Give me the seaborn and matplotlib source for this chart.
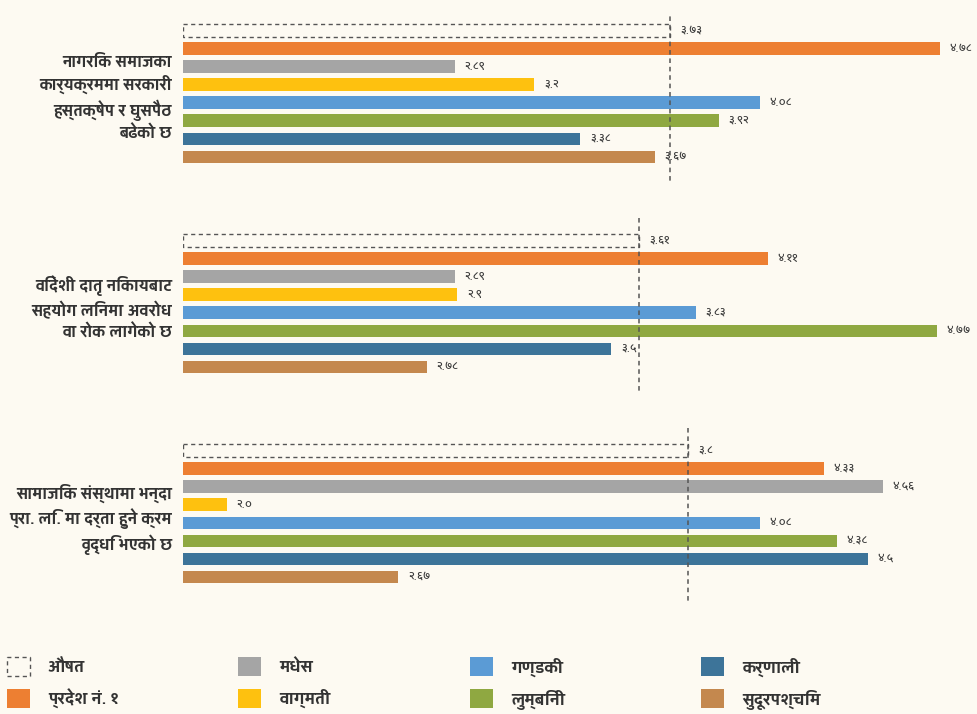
"""
Province-wise average score on three civic-space statements (horizontal bars).
"""
import matplotlib
matplotlib.use('Agg')
import matplotlib.pyplot as plt
import seaborn as sns
import pandas as pd
from matplotlib import font_manager
from matplotlib.ft2font import FT2Font
from matplotlib.patches import Patch

statements = [
    'नागरिक समाजका\nकार्यक्रममा सरकारी\nहस्तक्षेप र घुसपैठ\nबढेको छ',
    'विदेशी दातृ निकायबाट\nसहयोग लिनमा अवरोध\nवा रोक लागेको छ',
    'सामाजिक संस्थामा भन्दा\nप्रा. लि. मा दर्ता हुने क्रम\nवृद्धि भएको छ',
]
provinces = ['औषत', 'प्रदेश नं. १', 'मधेस', 'वाग्मती',
             'गण्डकी', 'लुम्बिनी', 'कर्णाली', 'सुदूरपश्चिम']

average = [3.73, 3.61, 3.8]
province_1 = [4.78, 4.11, 4.33]
madhesh = [2.89, 2.89, 4.56]
bagmati = [3.2, 2.9, 2.0]
gandaki = [4.08, 3.83, 4.08]
lumbini = [3.92, 4.77, 4.38]
karnali = [3.38, 3.5, 4.5]
sudurpashchim = [3.67, 2.78, 2.67]

colors = ['#FFFFFF', '#ED7F32', '#A5A5A5', '#FEC10F',
          '#5B9BD5', '#8FA841', '#3D7499', '#C4884E']

X_MIN, X_MAX = 1.83, 4.93
BG = '#FDFAF2'
TEXT = '#333333'
DEVA_DIGITS = str.maketrans('0123456789', '०१२३४५६७८९')
PREFERRED = ['Yantramanav', 'Mukta', 'Noto Sans Devanagari', 'Lohit Devanagari',
             'FreeSans', 'FreeSerif']


def devanagari_family():
    # matplotlib's default fonts have no Devanagari, so pick an installed one
    names = set()
    for f in font_manager.fontManager.ttflist:
        try:
            if 0x0915 in FT2Font(f.fname).get_charmap():
                names.add(f.name)
        except Exception:
            continue
    return next((p for p in PREFERRED if p in names), sorted(names)[0] if names else None)


series = [average, province_1, madhesh, bagmati, gandaki, lumbini, karnali, sudurpashchim]
rows = []
for name, values in zip(provinces, series):
    for statement, value in zip(statements, values):
        rows.append({'statement': statement, 'province': name, 'value': value})
df = pd.DataFrame(rows)

sns.set_theme(style='white')
deva = devanagari_family()
plt.rcParams['font.family'] = [deva, 'DejaVu Sans'] if deva else ['DejaVu Sans']

fig = plt.figure(figsize=(9.78, 7.14), dpi=100, facecolor=BG)
ax = fig.add_axes([183 / 978, 1 - 615 / 714, 1 - 183 / 978, 600 / 714])
ax.set_facecolor(BG)

sns.barplot(data=df, x='value', y='statement', hue='province', orient='h',
            order=statements, hue_order=provinces, palette=colors, saturation=1,
            width=0.686, gap=0.28, legend=False, ax=ax)

for i, container in enumerate(ax.containers):
    labels = []
    for patch in container:
        value = patch.get_width()
        labels.append(str(value).translate(DEVA_DIGITS))
        patch.set_x(X_MIN)
        patch.set_width(value - X_MIN)
        if i == 0:
            patch.set_facecolor('none')
            patch.set_edgecolor('#555555')
            patch.set_linestyle((0, (3, 2.5)))
            patch.set_linewidth(1.0)
        else:
            patch.set_linewidth(0)
    ax.bar_label(container, labels=labels, padding=7, fontsize=9.5,
                 fontweight='normal', color='#3a3a3a', clip_on=False)

for k, value in enumerate(average):
    ax.vlines(value, k - 0.41, k + 0.42, colors='#555555',
              linestyles=(0, (3, 2.5)), linewidth=1.1)

ax.set_xlim(X_MIN, X_MAX)
ax.set_ylim(2.481, -0.376)
ax.set_xlabel('')
ax.set_ylabel('')
ax.set_xticks([])
ax.tick_params(axis='y', length=0, pad=8)
for label in ax.get_yticklabels():
    label.set_fontsize(12)
    label.set_fontweight('bold')
    label.set_color(TEXT)
    label.set_linespacing(1.35)
    label.set_horizontalalignment('right')
    label.set_multialignment('right')
sns.despine(ax=ax, left=True, bottom=True)

handles = []
for k, (name, color) in enumerate(zip(provinces, colors)):
    if k == 0:
        handles.append(Patch(facecolor='none', edgecolor='#555555',
                             linestyle=(0, (3, 2.5)), linewidth=1.0, label=name))
    else:
        handles.append(Patch(facecolor=color, edgecolor='none', label=name))

col_x = [7, 238, 470, 701]
for c, x in enumerate(col_x):
    fig.legend(handles=handles[2 * c:2 * c + 2], loc='upper left',
               bbox_to_anchor=(x / 978, 1 - 657 / 714), frameon=False,
               borderaxespad=0, borderpad=0, handlelength=1.35, handleheight=1.35,
               handletextpad=1.0, labelspacing=0.7,
               prop={'size': 12.5, 'weight': 'bold'}, labelcolor=TEXT)

fig.savefig('out.png', dpi=100, facecolor=BG)
